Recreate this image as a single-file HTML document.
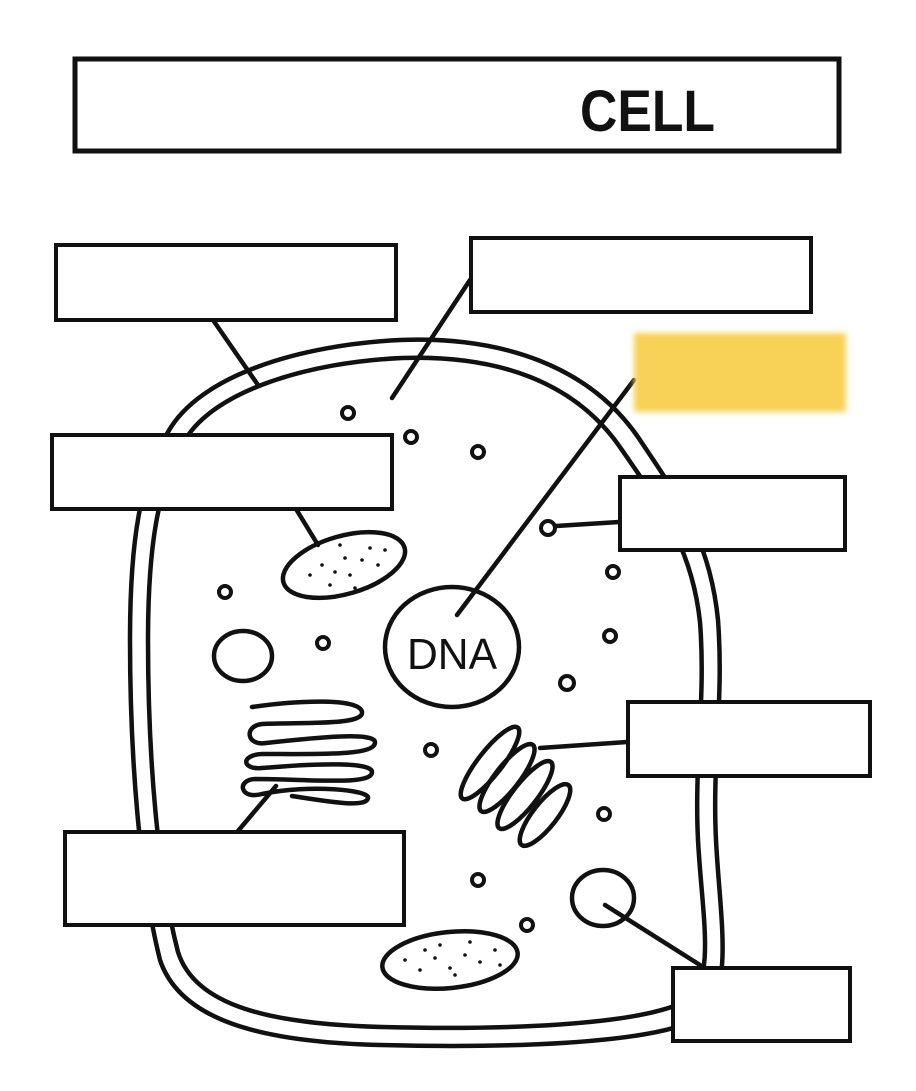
<!DOCTYPE html>
<html><head><meta charset="utf-8"><style>
html,body{margin:0;padding:0;background:#fff;width:916px;height:1091px;overflow:hidden}
svg{display:block}
</style></head><body>
<svg width="916" height="1091" viewBox="0 0 916 1091" xmlns="http://www.w3.org/2000/svg">
<defs><filter id="bl"><feGaussianBlur stdDeviation="3"/></filter></defs>
<g fill="none" stroke="#111" stroke-width="4.5" stroke-linecap="round" stroke-linejoin="round">
<!-- cell outer -->
<path d="M168,432 C200,375 300,345 400,340 C500,336 590,365 640,440 C680,500 710,540 718,620 C724,700 712,760 716,840 C720,920 735,990 700,1018 C650,1045 500,1048 380,1045 C260,1042 180,1020 160,960 C140,880 130,760 130,640 C130,540 140,480 168,432 Z"/>
<!-- cell inner -->
<path d="M185,440 C215,390 310,362 402,358 C495,355 575,380 622,450 C662,508 692,548 700,622 C706,700 694,760 698,840 C702,915 716,978 688,1000 C640,1026 500,1030 382,1027 C270,1024 195,1006 178,952 C158,875 148,760 148,640 C148,545 158,485 185,440 Z"/>
<!-- connectors -->
<path d="M213,320 L258,385"/>
<path d="M470,280 L392,398"/>
<path d="M634,380 L457,615"/>
<path d="M556,526 L619,522"/>
<path d="M296,509 L318,545"/>
<path d="M540,748 L627,742"/>
<path d="M276,786 L238,831"/>
<path d="M605,905 L700,965"/>
<!-- nucleus -->
<ellipse cx="452" cy="647" rx="67" ry="60"/>
<ellipse cx="243" cy="656" rx="29" ry="25"/>
<ellipse cx="603" cy="898" rx="31" ry="28"/>
<!-- small vesicles -->
<g stroke-width="4">
<circle cx="348" cy="413" r="6"/><circle cx="411" cy="437" r="6"/><circle cx="478" cy="452" r="6"/>
<circle cx="548" cy="528" r="7"/><circle cx="225" cy="592" r="6"/><circle cx="323" cy="643" r="6"/>
<circle cx="613" cy="572" r="6"/><circle cx="610" cy="636" r="6"/><circle cx="567" cy="683" r="7"/>
<circle cx="431" cy="750" r="6"/><circle cx="604" cy="814" r="6"/><circle cx="478" cy="880" r="6"/>
<circle cx="527" cy="925" r="6"/>
</g>
<!-- mitochondria -->
<ellipse cx="344" cy="565" rx="63" ry="29" transform="rotate(-16 344 565)"/>
<ellipse cx="450" cy="960" rx="68" ry="28" transform="rotate(-6 450 960)"/>
<!-- golgi -->
<path d="M252,707 C300,700 360,698 362,712 C364,726 300,722 262,724 C244,726 246,746 266,743 C320,737 374,732 375,742 C376,756 320,754 262,754 C240,755 242,770 262,768 C320,763 372,762 372,772 C372,786 310,779 255,779 C236,780 240,800 262,794 C310,784 370,790 368,798 C366,808 330,802 292,796"/>
<!-- ER loops -->
<ellipse cx="490" cy="763" rx="12" ry="45" transform="rotate(38 490 763)"/>
<ellipse cx="507" cy="778" rx="12" ry="42" transform="rotate(38 507 778)"/>
<ellipse cx="525" cy="795" rx="12" ry="42" transform="rotate(38 525 795)"/>
<ellipse cx="545" cy="815" rx="12" ry="38" transform="rotate(38 545 815)"/>
</g>
<!-- dots -->
<g fill="#111">
<circle cx="310" cy="575" r="1.8"/><circle cx="322" cy="565" r="1.8"/><circle cx="335" cy="572" r="1.8"/><circle cx="345" cy="558" r="1.8"/><circle cx="350" cy="575" r="1.8"/><circle cx="362" cy="560" r="1.8"/><circle cx="370" cy="548" r="1.8"/><circle cx="378" cy="565" r="1.8"/><circle cx="330" cy="585" r="1.8"/><circle cx="355" cy="588" r="1.8"/><circle cx="385" cy="550" r="1.8"/><circle cx="340" cy="545" r="1.8"/>
<circle cx="405" cy="960" r="1.8"/><circle cx="420" cy="970" r="1.8"/><circle cx="435" cy="958" r="1.8"/><circle cx="450" cy="968" r="1.8"/><circle cx="465" cy="955" r="1.8"/><circle cx="480" cy="962" r="1.8"/><circle cx="495" cy="950" r="1.8"/><circle cx="440" cy="945" r="1.8"/><circle cx="470" cy="942" r="1.8"/><circle cx="425" cy="950" r="1.8"/><circle cx="455" cy="975" r="1.8"/><circle cx="500" cy="965" r="1.8"/>
</g>
<text x="452" y="669" font-family="Liberation Sans, sans-serif" font-size="44" text-anchor="middle" fill="#111" textLength="90" lengthAdjust="spacingAndGlyphs">DNA</text>
<!-- title -->
<rect x="75" y="59" width="764" height="92" fill="#fff" stroke="#111" stroke-width="5"/>
<text x="580" y="131" font-family="Liberation Sans, sans-serif" font-weight="bold" font-size="58" fill="#111" textLength="135" lengthAdjust="spacingAndGlyphs">CELL</text>
<!-- label boxes -->
<g fill="#fff" stroke="#111" stroke-width="4">
<rect x="56" y="245" width="340" height="75"/>
<rect x="471" y="238" width="340" height="74"/>
<rect x="52" y="435" width="340" height="74"/>
<rect x="620" y="477" width="225" height="73"/>
<rect x="628" y="702" width="242" height="74"/>
<rect x="65" y="832" width="339" height="93"/>
<rect x="673" y="968" width="177" height="73"/>
</g>
<rect x="634" y="333" width="212" height="79" fill="#F7D257" filter="url(#bl)"/>
<rect x="640" y="338" width="200" height="70" fill="#F7D257"/>
</svg>
</body></html>
